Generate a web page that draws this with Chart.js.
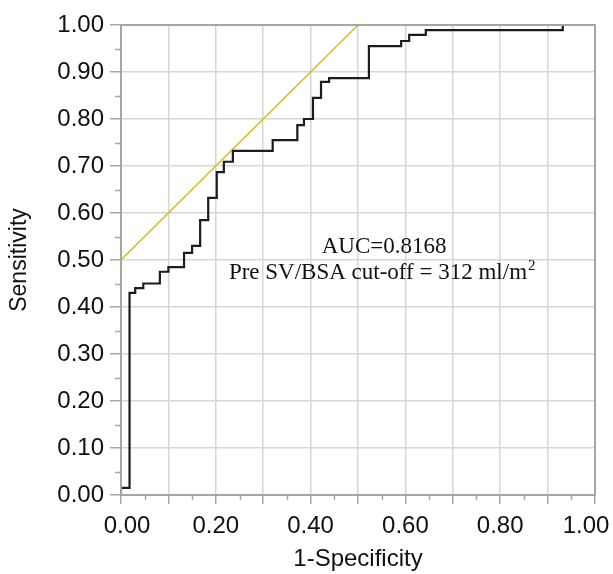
<!DOCTYPE html>
<html>
<head>
<meta charset="utf-8">
<script src="https://cdn.jsdelivr.net/npm/chart.js@4.4.0/dist/chart.umd.min.js"></script>
<style>
  html, body { margin: 0; padding: 0; background: #fff; }
  #wrap { width: 613px; height: 574px; position: relative; }
</style>
</head>
<body>
<div id="wrap"><canvas id="roc"></canvas></div>
<script>
// ROC curve corners (1-specificity, sensitivity)
const fpr = [0, 0, 0.018, 0.03, 0.047, 0.082, 0.1, 0.133, 0.15, 0.167, 0.184, 0.202, 0.217, 0.236,
  0.32, 0.372, 0.386, 0.405, 0.422, 0.439, 0.523, 0.591, 0.608, 0.643, 0.932, 1.0];
const tpr = [0, 0.015, 0.43, 0.44, 0.45, 0.475, 0.485, 0.515, 0.53, 0.585, 0.632, 0.687, 0.709, 0.732,
  0.755, 0.787, 0.80, 0.845, 0.879, 0.887, 0.955, 0.966, 0.979, 0.989, 1.0, 1.0];
// tangent line at the cut-off
const refX = [0, 0.5];
const refY = [0.5, 1.0];
const xTicks = [0, 0.2, 0.4, 0.6, 0.8, 1.0];
const yTicks = [0, 0.1, 0.2, 0.3, 0.4, 0.5, 0.6, 0.7, 0.8, 0.9, 1.0];
const aucText = 'AUC=0.8168';
const cutText = 'Pre SV/BSA cut-off = 312 ml/m';
const cutSup = '2';

const gridCol = '#d6d6d6';
const axisCol = '#a6a6a6';
const sans = "'Liberation Sans', Arial, sans-serif";
const serif = "'Liberation Serif', 'Times New Roman', serif";

const pts = (xs, ys) => xs.map((x, i) => ({x, y: ys[i]}));
const isEnd = v => v < 1e-6 || v > 1 - 1e-6;

// frame, minor ticks, end labels of the x axis and the annotation text
const extras = {
  id: 'extras',
  afterDraw(chart) {
    const {ctx, chartArea: a, scales: {x, y}} = chart;
    ctx.save();
    ctx.strokeStyle = axisCol;
    ctx.lineWidth = 2;
    ctx.strokeRect(a.left, a.top, a.right - a.left, a.bottom - a.top);
    ctx.lineWidth = 1.5;
    ctx.beginPath();
    for (let v = 0.05; v < 1; v += 0.1) {
      const px = Math.round(x.getPixelForValue(v)) + 0.5;
      ctx.moveTo(px, a.bottom); ctx.lineTo(px, a.bottom + 5);
      const py = Math.round(y.getPixelForValue(v)) + 0.5;
      ctx.moveTo(a.left, py); ctx.lineTo(a.left - 6, py);
    }
    ctx.stroke();

    // first and last x labels sit nudged inwards, as in the source plot
    ctx.fillStyle = '#111';
    ctx.font = '24px ' + sans;
    ctx.textAlign = 'center';
    ctx.textBaseline = 'middle';
    const ly = a.bottom + 31;
    ctx.fillText(xTicks[0].toFixed(2), x.getPixelForValue(xTicks[0]) + 6, ly);
    const last = xTicks[xTicks.length - 1];
    ctx.fillText(last.toFixed(2), x.getPixelForValue(last) - 9, ly);

    ctx.textBaseline = 'alphabetic';
    ctx.font = '23px ' + serif;
    ctx.fillText(aucText, x.getPixelForValue(0.555), y.getPixelForValue(0.515));
    ctx.textAlign = 'left';
    const w = ctx.measureText(cutText).width;
    ctx.font = '15px ' + serif;
    const ws = ctx.measureText(cutSup).width;
    const cx = x.getPixelForValue(0.55);
    const bx = cx - (w + ws) / 2;
    const by = y.getPixelForValue(0.46);
    ctx.font = '23px ' + serif;
    ctx.fillText(cutText, bx, by);
    ctx.font = '15px ' + serif;
    ctx.fillText(cutSup, bx + w + 1, by - 9);
    ctx.restore();
  }
};

new Chart(document.getElementById('roc'), {
  type: 'scatter',
  data: {
    datasets: [
      {
        data: pts(fpr, tpr), showLine: true, stepped: 'before',
        borderColor: '#1c1c1c', borderWidth: 2.2, pointRadius: 0, fill: false, order: 1
      },
      {
        data: pts(refX, refY), showLine: true,
        borderColor: '#d9bf2a', borderWidth: 1.6, pointRadius: 0, fill: false, order: 2
      }
    ]
  },
  options: {
    responsive: true,
    maintainAspectRatio: false,
    animation: false,
    events: [],
    layout: { padding: { top: 25, right: 18, left: 0, bottom: 0 } },
    plugins: { legend: { display: false }, tooltip: { enabled: false } },
    scales: {
      x: {
        type: 'linear', min: 0, max: 1,
        afterFit: s => { s.height = 79; s.paddingLeft = 0; s.paddingRight = 0; },
        afterBuildTicks: s => { s.ticks = yTicks.map(v => ({value: v})); },
        ticks: {
          autoSkip: false, maxRotation: 0, padding: 8, color: '#111',
          font: { family: sans, size: 24 },
          callback: v => (!isEnd(v) && xTicks.some(t => Math.abs(t - v) < 1e-6)) ? v.toFixed(2) : ''
        },
        grid: { color: gridCol, lineWidth: 1.5, tickColor: axisCol, tickLength: 9, drawTicks: true },
        border: { color: axisCol, width: 2 },
        title: { display: true, text: '1-Specificity', color: '#111', font: { family: sans, size: 24 }, padding: { top: 0, bottom: 0 } }
      },
      y: {
        type: 'linear', min: 0, max: 1,
        afterFit: s => { s.width = 121; s.paddingTop = 0; s.paddingBottom = 0; },
        afterBuildTicks: s => { s.ticks = yTicks.map(v => ({value: v})); },
        ticks: {
          autoSkip: false, padding: 6, color: '#111',
          font: { family: sans, size: 24 },
          callback: v => v.toFixed(2)
        },
        grid: { color: gridCol, lineWidth: 1.5, tickColor: axisCol, tickLength: 11, drawTicks: true },
        border: { color: axisCol, width: 2 },
        title: { display: true, text: 'Sensitivity', color: '#111', font: { family: sans, size: 23 }, padding: { top: 6, bottom: 0 } }
      }
    }
  },
  plugins: [extras]
});
</script>
</body>
</html>
